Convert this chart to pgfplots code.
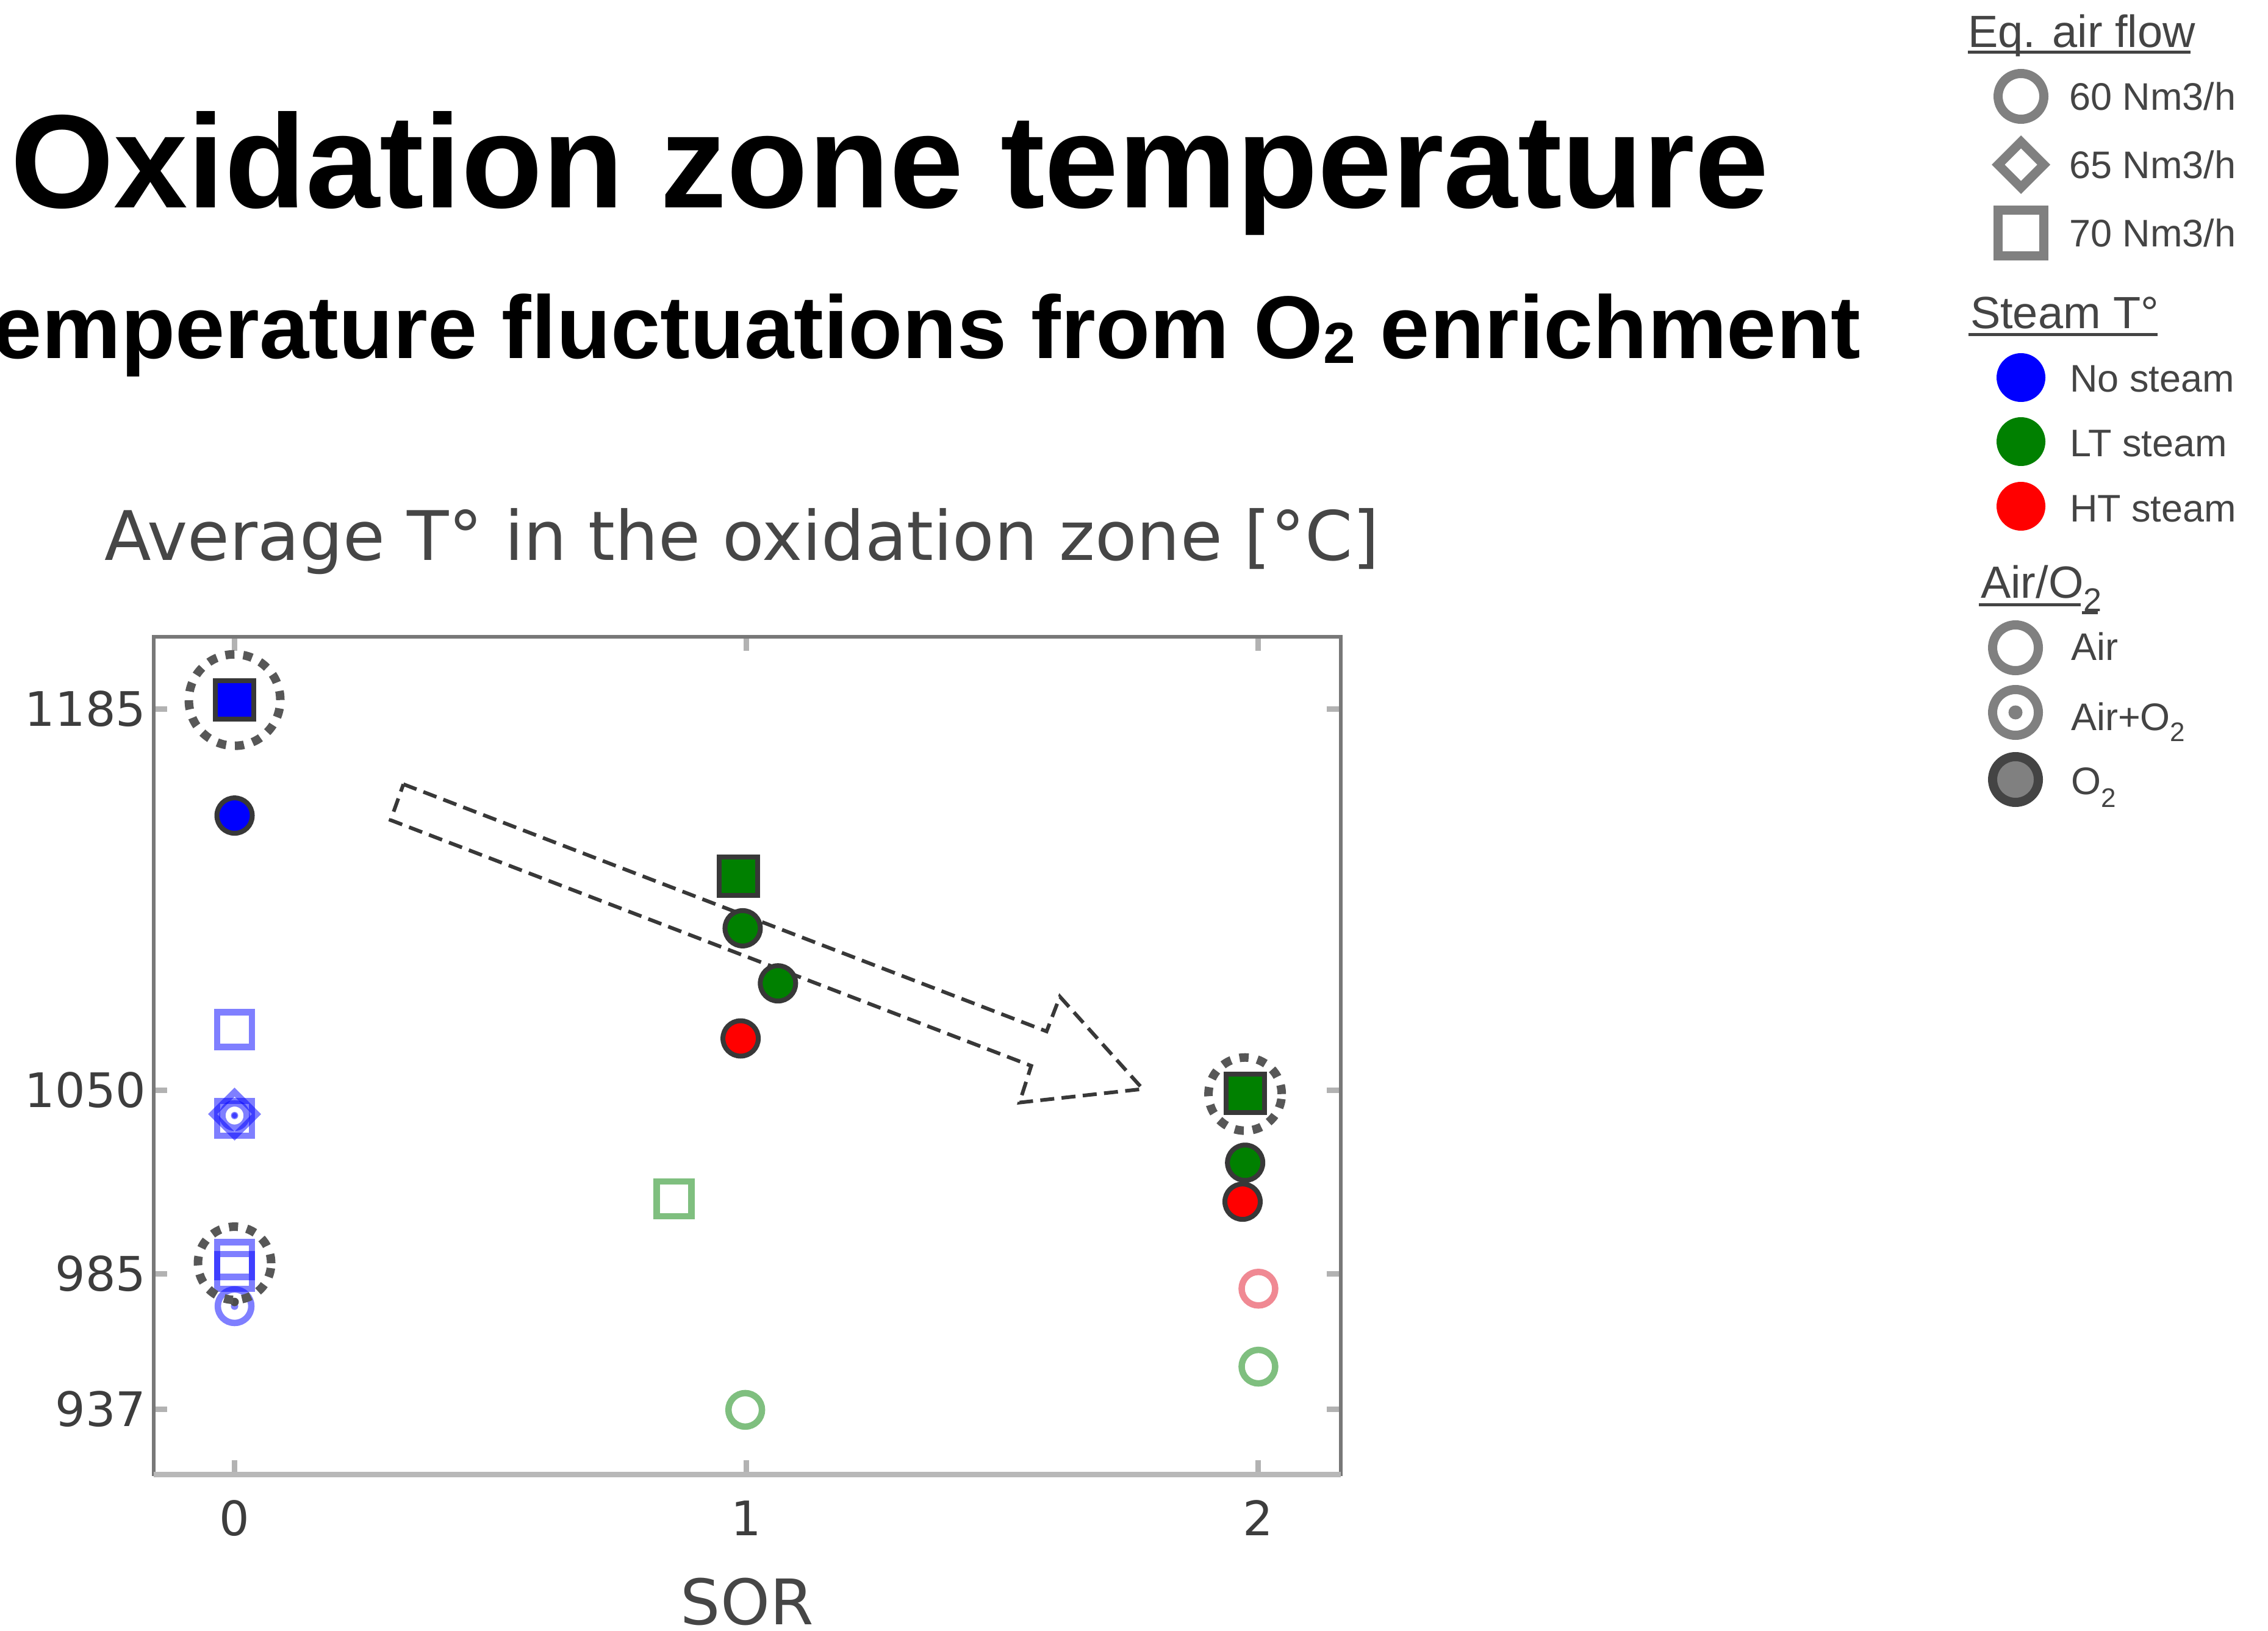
\documentclass[border=0pt]{standalone}
\usepackage{pgfplots}
\pgfplotsset{compat=1.18}
\usepackage{fontspec}
\setmainfont{DejaVu Sans}
\newfontfamily\arialfont{Liberation Sans}

\definecolor{nsblue}{RGB}{0,0,255}
\definecolor{ltgreen}{RGB}{0,128,0}
\definecolor{htred}{RGB}{255,0,0}
\definecolor{htredL}{RGB}{225,20,40}
\definecolor{legtxt}{RGB}{68,68,68}
\definecolor{leggray}{RGB}{128,128,128}
\definecolor{chartxt}{RGB}{70,70,70}

% open diamond and "air + O2" marks (ring with a centre dot)
\pgfdeclareplotmark{rhomb}{%
  \pgfpathmoveto{\pgfqpoint{0pt}{\pgfplotmarksize}}%
  \pgfpathlineto{\pgfqpoint{\pgfplotmarksize}{0pt}}%
  \pgfpathlineto{\pgfqpoint{0pt}{-\pgfplotmarksize}}%
  \pgfpathlineto{\pgfqpoint{-\pgfplotmarksize}{0pt}}%
  \pgfpathclose\pgfusepathqstroke}
\pgfdeclareplotmark{dotcirc}{%
  \pgfpathcircle{\pgfpointorigin}{\pgfplotmarksize}\pgfusepathqstroke
  \pgfpathcircle{\pgfpointorigin}{0.22\pgfplotmarksize}\pgfusepathqfill}
\pgfdeclareplotmark{centdot}{%
  \pgfpathcircle{\pgfpointorigin}{\pgfplotmarksize}\pgfusepathqfill}

\pgfplotsset{
  oxy/.style={only marks, mark options={solid, fill=#1, draw=black!78, line width=0.8pt}},
  airmk/.style={only marks, mark options={solid, draw=#1, fill=#1, line width=1.05pt, opacity=0.5}},
  hilite/.style={only marks, mark=o, mark size=#1,
    mark options={draw=black!66, line width=1.4pt, dash pattern=on 1.5pt off 1.45pt}},
}

\begin{document}
\begin{tikzpicture}
\useasboundingbox (0pt,0pt) rectangle (371.8pt,-267.4pt);

% headings
\node[anchor=base west, inner sep=0pt, font=\arialfont\bfseries\fontsize{21.8}{26}\selectfont]
  at (1.5pt,-34.1pt) {Oxidation zone temperature};
\node[anchor=base west, inner sep=0pt, font=\arialfont\bfseries\fontsize{14.6}{17}\selectfont]
  at (-9.3pt,-58.8pt) {Temperature fluctuations from O\raisebox{-0.8pt}{\fontsize{9.5}{10}\selectfont 2} enrichment};

\begin{axis}[
  at={(25.15pt,-241.7pt)}, anchor=south west,
  scale only axis, width=194.65pt, height=137.3pt,
  xmin=-0.1586, xmax=2.162, ymin=914.0, ymax=1210.5,
  xtick={0,1,2}, ytick={937,985,1050,1185},
  tick align=inside, major tick length=2.3pt,
  tick style={draw=black!30, line width=0.9pt},
  axis line style={draw=black!53, line width=0.6pt},
  /pgf/number format/assume math mode=true,
  /pgf/number format/1000 sep={},
  ticklabel style={font=\fontsize{7.8}{9}\selectfont, text=black!76},
  yticklabel style={anchor=east, inner sep=0pt, xshift=-1.0pt},
  xticklabel style={anchor=base, inner sep=0pt, yshift=-10pt},
  title={Average T° in the oxidation zone [°C]},
  title style={at={(rel axis cs:0.5,1)}, anchor=base, yshift=6.6pt, xshift=-0.85pt,
    inner sep=0pt, font=\fontsize{11.2}{13}\selectfont, text=chartxt},
  xlabel={SOR},
  xlabel style={at={(rel axis cs:0.5,0)}, anchor=base, yshift=-24.6pt,
    inner sep=0pt, font=\fontsize{10.3}{12}\selectfont, text=chartxt},
  clip=false,
]
% lighter bottom frame line
\draw[black!28, line width=0.9pt] (rel axis cs:0,0) -- (rel axis cs:1,0);

% ---- no steam (blue) ----
\addplot[airmk=nsblue, mark=square, mark size=2.85pt] coordinates {(0,1071.4) (0,1040.0) (0,990.0) (0,985.8)};
\addplot[airmk=nsblue, mark=rhomb, mark size=3.6pt] coordinates {(0,1041.5)};
\addplot[airmk=nsblue, mark=dotcirc, mark size=2.0pt] coordinates {(0,1041.0)};
\addplot[airmk=nsblue, mark=centdot, mark size=0.6pt] coordinates {(0,1041.0)};
\addplot[airmk=nsblue, mark=dotcirc, mark size=2.75pt] coordinates {(0,973.5)};
\addplot[only marks, mark=centdot, mark size=0.7pt, mark options={fill=black!70, draw=none}] coordinates {(0,975.0)};
\addplot[oxy=nsblue, mark=square*, mark size=3.15pt] coordinates {(0,1188.1)};
\addplot[oxy=nsblue, mark=*, mark size=2.9pt] coordinates {(0,1147.2)};

% ---- LT steam (green) ----
\addplot[airmk=ltgreen, mark=square, mark size=2.85pt] coordinates {(0.859,1011.5)};
\addplot[airmk=ltgreen, mark=o, mark size=2.75pt] coordinates {(0.998,936.8) (2.001,952.1)};
\addplot[oxy=ltgreen, mark=square*, mark size=3.15pt] coordinates {(0.985,1125.7) (1.975,1048.9)};
\addplot[oxy=ltgreen, mark=*, mark size=2.9pt] coordinates {(0.993,1107.3) (1.062,1087.8) (1.975,1024.3)};

% ---- HT steam (red) ----
\addplot[airmk=htredL, mark=o, mark size=2.75pt] coordinates {(2.001,979.7)};
\addplot[oxy=htred, mark=*, mark size=2.9pt] coordinates {(0.989,1068.3) (1.970,1010.5)};

% highlighted runs
\addplot[hilite=7.5pt] coordinates {(0,1188.1)};
\addplot[hilite=6pt] coordinates {(0,988.7) (1.975,1048.6)};

% trend arrow
\draw[black!78, line width=0.6pt, dash pattern=on 2.3pt off 1.2pt, line join=miter]
  (axis cs:0.330,1158.3) -- (axis cs:1.587,1070.8) -- (axis cs:1.613,1083.1)
  -- (axis cs:1.775,1050.4) -- (axis cs:1.534,1045.6) -- (axis cs:1.557,1058.6)
  -- (axis cs:0.305,1145.6) -- cycle;
\end{axis}

% ---- key ----
\begin{scope}[every node/.style={anchor=base west, inner sep=0pt, text=legtxt}]
  \def\hfont{\arialfont\fontsize{7.4}{9}\selectfont}
  \def\ifont{\arialfont\fontsize{6.3}{8}\selectfont}
  % air flow
  \node[font=\hfont] at (322.4pt,-7.76pt) {Eq. air flow};
  \draw[legtxt, line width=0.5pt] (322.6pt,-8.6pt) -- (359.1pt,-8.6pt);
  \draw[leggray, line width=1.5pt] (331.3pt,-15.8pt) circle[radius=3.75pt];
  \node[font=\ifont] at (339.0pt,-18.1pt) {60 Nm3/h};
  \draw[leggray, line width=1.5pt, line join=miter]
    (331.3pt,-23.26pt) -- (335.04pt,-27pt) -- (331.3pt,-30.74pt) -- (327.56pt,-27pt) -- cycle;
  \node[font=\ifont] at (339.0pt,-29.3pt) {65 Nm3/h};
  \draw[leggray, line width=1.5pt] (327.55pt,-34.45pt) rectangle (335.05pt,-41.95pt);
  \node[font=\ifont] at (339.0pt,-40.5pt) {70 Nm3/h};
  % steam
  \node[font=\hfont] at (322.8pt,-53.9pt) {Steam T°};
  \draw[legtxt, line width=0.5pt] (322.7pt,-54.9pt) -- (353.7pt,-54.9pt);
  \fill[nsblue] (331.3pt,-61.9pt) circle[radius=4pt];
  \node[font=\ifont] at (339.1pt,-64.2pt) {No steam};
  \fill[ltgreen] (331.3pt,-72.4pt) circle[radius=4pt];
  \node[font=\ifont] at (339.1pt,-74.8pt) {LT steam};
  \fill[htred] (331.3pt,-83.0pt) circle[radius=4pt];
  \node[font=\ifont] at (339.1pt,-85.5pt) {HT steam};
  % oxidant
  \node[font=\hfont] at (324.5pt,-98.0pt) {Air/O\raisebox{-2.3pt}{\fontsize{5.4}{6}\selectfont 2}};
  \draw[legtxt, line width=0.5pt] (324.4pt,-99.1pt) -- (341.1pt,-99.1pt);
  \draw[legtxt, line width=0.5pt] (341.3pt,-100.4pt) -- (343.9pt,-100.4pt);
  \draw[leggray, line width=1.5pt] (330.4pt,-106.2pt) circle[radius=3.75pt];
  \node[font=\ifont] at (339.3pt,-108.2pt) {Air};
  \draw[leggray, line width=1.5pt] (330.4pt,-116.8pt) circle[radius=3.75pt];
  \fill[leggray] (330.4pt,-116.8pt) circle[radius=1.15pt];
  \node[font=\ifont] at (339.3pt,-119.7pt) {Air+O\raisebox{-1.8pt}{\fontsize{4.4}{5}\selectfont 2}};
  \draw[legtxt, line width=1.5pt, fill=leggray] (330.4pt,-127.8pt) circle[radius=3.75pt];
  \node[font=\ifont] at (339.3pt,-130.2pt) {O\raisebox{-2.1pt}{\fontsize{4.4}{5}\selectfont 2}};
\end{scope}
\end{tikzpicture}
\end{document}
